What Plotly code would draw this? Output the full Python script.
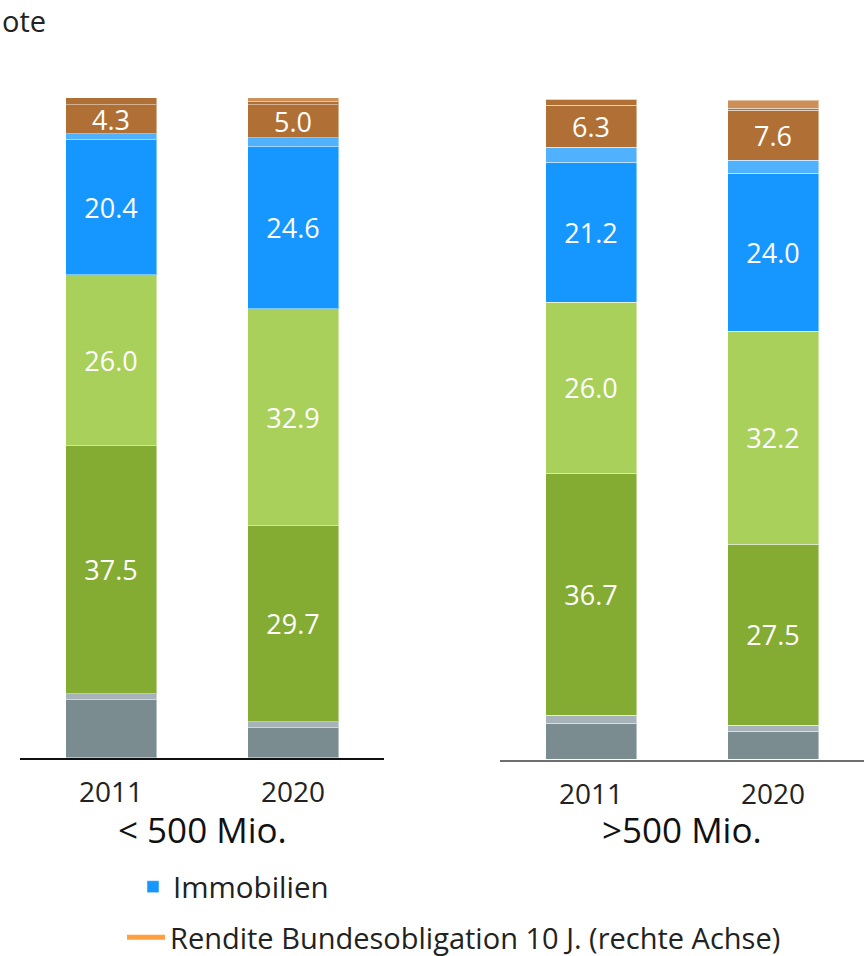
import plotly.graph_objects as go

# Asset allocation of pension funds by size class, in percent
years = ["2011", "2020"]
groups = ["< 500 Mio.", ">500 Mio."]

liquiditaet = {"< 500 Mio.": [8.8, 4.6], ">500 Mio.": [5.4, 4.2]}
hypotheken = {"< 500 Mio.": [0.9, 0.8], ">500 Mio.": [1.2, 0.9]}
obligationen = {"< 500 Mio.": [37.5, 29.7], ">500 Mio.": [36.7, 27.5]}
aktien = {"< 500 Mio.": [26.0, 32.9], ">500 Mio.": [26.0, 32.2]}
immobilien = {"< 500 Mio.": [20.4, 24.6], ">500 Mio.": [21.2, 24.0]}
immo_indirekt = {"< 500 Mio.": [1.0, 1.4], ">500 Mio.": [2.3, 1.9]}
alternative = {"< 500 Mio.": [4.3, 5.0], ">500 Mio.": [6.3, 7.6]}
infrastruktur = {"< 500 Mio.": [1.1, 0.35], ">500 Mio.": [0.9, 0.35]}
uebrige = {"< 500 Mio.": [0.0, 0.7], ">500 Mio.": [0.0, 1.25]}

legend_immo = "Immobilien"
legend_rendite = "Rendite Bundesobligation 10 J. (rechte Achse)"

# (name, values, colour, show value label)
series = [
    ("Liquidität", liquiditaet, "#7b8c91", False),
    ("Hypotheken", hypotheken, "#a7b3b8", False),
    ("Obligationen", obligationen, "#84ac32", True),
    ("Aktien", aktien, "#a8d05a", True),
    (legend_immo, immobilien, "#1597ff", True),
    ("Immobilien indirekt", immo_indirekt, "#50b1ff", False),
    ("Alternative Anlagen", alternative, "#b07035", True),
    ("Infrastruktur", infrastruktur, "#b07035", False),
    ("Übrige", uebrige, "#cc8f57", False),
]

FONT = "Open Sans"
fig = go.Figure()

for gi, grp in enumerate(groups):
    xa = "x" if gi == 0 else "x2"
    ya = "y" if gi == 0 else "y2"
    for name, data, color, labelled in series:
        vals = data[grp]
        fig.add_trace(go.Bar(
            x=years, y=vals, name=name, xaxis=xa, yaxis=ya,
            width=0.5,
            marker=dict(color=color, line=dict(color="rgba(255,255,255,0.45)", width=1)),
            text=[f"{v:.1f}" for v in vals] if labelled else None,
            textposition="inside" if labelled else "none",
            insidetextanchor="middle",
            constraintext="none",
            textangle=0,
            textfont=dict(family=FONT, size=27, color="white"),
            showlegend=(gi == 0 and name == legend_immo),
            legend="legend",
            hoverinfo="skip",
        ))

# Bond yield entry (line on the secondary axis in the full chart)
fig.add_trace(go.Scatter(
    x=[None], y=[None], mode="lines", name=legend_rendite,
    line=dict(color="#ff9f40", width=5), legend="legend2",
    xaxis="x", yaxis="y", showlegend=True,
))

W, H = 865, 956
ybot_l, ytop_l = 758, 98
ybot_r, ytop_r = 759.5, 99.5

axis_common = dict(type="category", range=[-0.5, 1.5], showgrid=False, zeroline=False,
                   ticks="", tickfont=dict(family=FONT, size=28, color="#222"),
                   ticklabelstandoff=9, fixedrange=True)

fig.update_layout(
    width=W, height=H,
    margin=dict(l=0, r=0, t=0, b=0, autoexpand=False),
    paper_bgcolor="white", plot_bgcolor="white",
    barmode="stack", bargap=0,
    font=dict(family=FONT, color="#222"),
    xaxis=dict(domain=[20 / W, 384 / W], anchor="y", showline=True,
               linecolor="#111", linewidth=1.5, **axis_common),
    xaxis2=dict(domain=[500 / W, 864 / W], anchor="y2", showline=True,
                linecolor="#6e6e6e", linewidth=2, **axis_common),
    yaxis=dict(domain=[(H - ybot_l) / H, (H - ytop_l) / H], range=[0, 100],
               visible=False, fixedrange=True),
    yaxis2=dict(domain=[(H - ybot_r) / H, (H - ytop_r) / H], range=[0, 100],
                visible=False, fixedrange=True),
    legend=dict(x=133 / W, y=1 - 861 / H, xanchor="left", yanchor="top",
                bgcolor="rgba(0,0,0,0)", borderwidth=0,
                font=dict(family=FONT, size=29.5, color="#222")),
    legend2=dict(x=122 / W, y=1 - 912 / H, xanchor="left", yanchor="top",
                 bgcolor="rgba(0,0,0,0)", borderwidth=0, itemwidth=38,
                 font=dict(family=FONT, size=29, color="#222")),
    annotations=[
        dict(text="ote", x=0, y=1 - 20 / H, xref="paper", yref="paper",
             xanchor="left", yanchor="middle", showarrow=False,
             font=dict(family=FONT, size=29, color="#222")),
        dict(text=groups[0], x=0.5, y=1 - 829 / H, xref="x domain", yref="paper",
             xanchor="center", yanchor="middle", showarrow=False,
             font=dict(family=FONT, size=35, color="#111")),
        dict(text=groups[1], x=0.5, y=1 - 829 / H, xref="x2 domain", yref="paper",
             xanchor="center", yanchor="middle", showarrow=False,
             font=dict(family=FONT, size=35, color="#111")),
    ],
)

fig.write_html("out.html")
